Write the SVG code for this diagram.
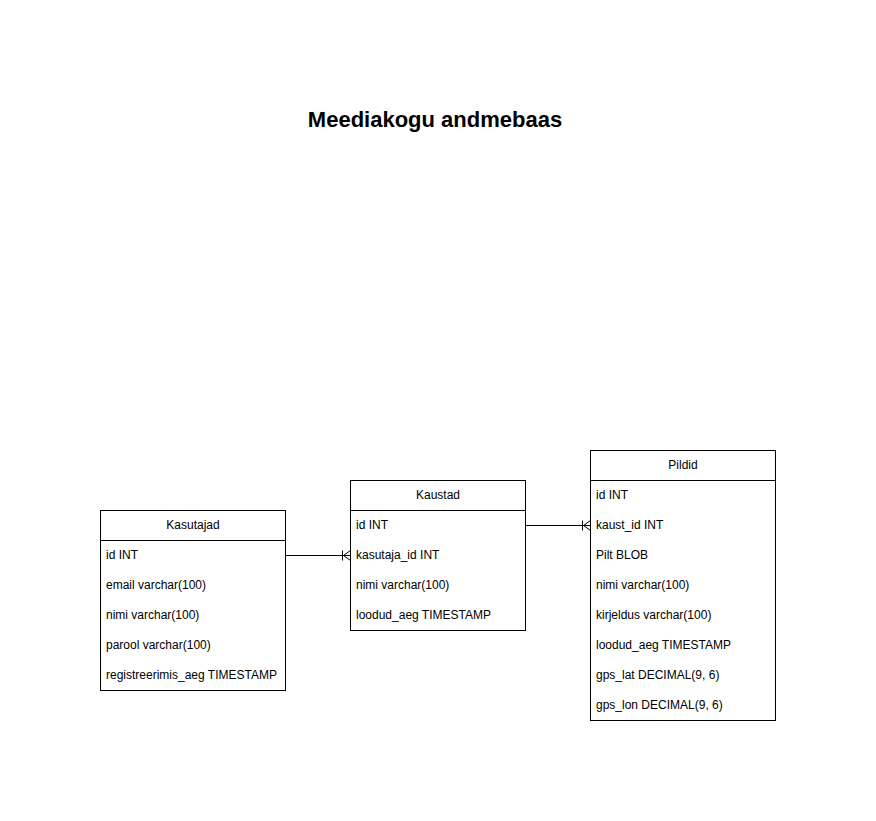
<svg xmlns="http://www.w3.org/2000/svg" width="876" height="821" viewBox="0 0 876 821">
<style>
.box{fill:#fff;stroke:#000;stroke-width:1}
.t{font-family:"Liberation Sans",Arial,sans-serif;font-size:12px;fill:#000}
.h{text-anchor:middle}
.title{font-family:"Liberation Sans",Arial,sans-serif;font-size:22px;font-weight:bold;fill:#000;text-anchor:middle}
.c{stroke:#000;stroke-width:1;fill:none}
</style>
<defs>
<marker id="oneMany" markerWidth="12" markerHeight="12" refX="10" refY="6" orient="auto" markerUnits="userSpaceOnUse">
<path d="M2,1 L2,11 M3,6 L10,1 M3,6 L10,11" stroke="#000" stroke-width="1" fill="none"/>
</marker>
</defs>
<rect width="876" height="821" fill="#fff"/>
<text class="title" x="435" y="127">Meediakogu andmebaas</text>
<g id="Kasutajad">
<rect class="box" x="100.5" y="510.5" width="185" height="180"/>
<line class="c" x1="100.5" y1="540.5" x2="285.5" y2="540.5"/>
<text class="t h" x="193" y="529">Kasutajad</text>
<text class="t" x="106" y="559">id INT</text>
<text class="t" x="106" y="589">email varchar(100)</text>
<text class="t" x="106" y="619">nimi varchar(100)</text>
<text class="t" x="106" y="649">parool varchar(100)</text>
<text class="t" x="106" y="679">registreerimis_aeg TIMESTAMP</text>
</g>
<g id="Kaustad">
<rect class="box" x="350.5" y="480.5" width="175" height="150"/>
<line class="c" x1="350.5" y1="510.5" x2="525.5" y2="510.5"/>
<text class="t h" x="438" y="499">Kaustad</text>
<text class="t" x="356" y="529">id INT</text>
<text class="t" x="356" y="559">kasutaja_id INT</text>
<text class="t" x="356" y="589">nimi varchar(100)</text>
<text class="t" x="356" y="619">loodud_aeg TIMESTAMP</text>
</g>
<g id="Pildid">
<rect class="box" x="590.5" y="450.5" width="185" height="270"/>
<line class="c" x1="590.5" y1="480.5" x2="775.5" y2="480.5"/>
<text class="t h" x="683" y="469">Pildid</text>
<text class="t" x="596" y="499">id INT</text>
<text class="t" x="596" y="529">kaust_id INT</text>
<text class="t" x="596" y="559">Pilt BLOB</text>
<text class="t" x="596" y="589">nimi varchar(100)</text>
<text class="t" x="596" y="619">kirjeldus varchar(100)</text>
<text class="t" x="596" y="649">loodud_aeg TIMESTAMP</text>
<text class="t" x="596" y="679">gps_lat DECIMAL(9, 6)</text>
<text class="t" x="596" y="709">gps_lon DECIMAL(9, 6)</text>
</g>
<g id="connectors">
<path class="c" d="M285.5,555.5 L350.5,555.5" marker-end="url(#oneMany)"/>
<path class="c" d="M525.5,525.5 L590.5,525.5" marker-end="url(#oneMany)"/>
</g>
</svg>
